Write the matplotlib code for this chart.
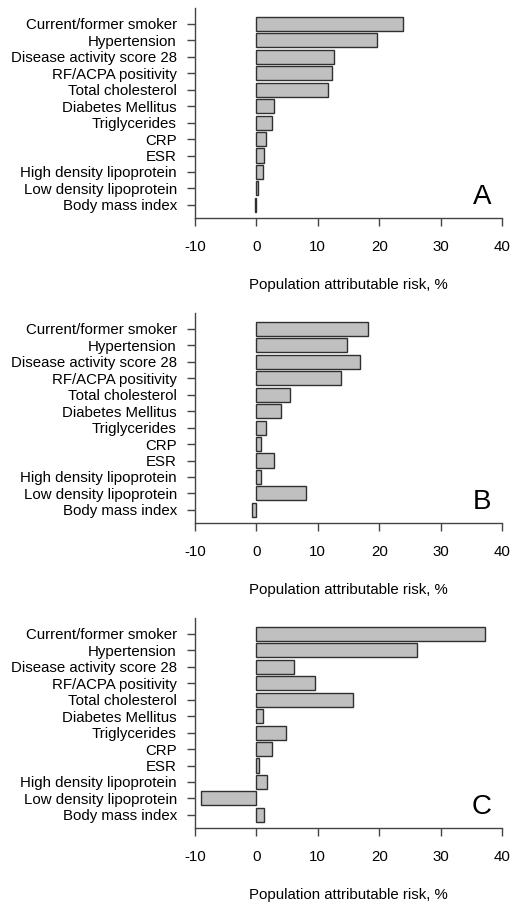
import matplotlib.pyplot as plt

plt.rcParams['font.family'] = ['Liberation Sans', 'DejaVu Sans']

factors = ['Current/former smoker', 'Hypertension', 'Disease activity score 28',
           'RF/ACPA positivity', 'Total cholesterol', 'Diabetes Mellitus',
           'Triglycerides', 'CRP', 'ESR', 'High density lipoprotein',
           'Low density lipoprotein', 'Body mass index']

par_a = [23.8, 19.7, 12.7, 12.3, 11.6, 2.8, 2.6, 1.5, 1.2, 1.1, 0.2, -0.3]
par_b = [18.1, 14.7, 16.9, 13.7, 5.4, 4.0, 1.5, 0.7, 2.8, 0.8, 8.1, -0.7]
par_c = [37.3, 26.2, 6.2, 9.5, 15.7, 1.0, 4.8, 2.5, 0.5, 1.7, -9.1, 1.2]

panels = ['A', 'B', 'C']
xticks = [-10, 0, 10, 20, 30, 40]
xlabel = 'Population attributable risk, %'

W, H = 519, 911
fig = plt.figure(figsize=(W / 100, H / 100), dpi=100)

# axes boxes in pixels: (top, bottom)
boxes = [(8, 218), (313, 523), (618, 828)]
left, right = 195, 502

for vals, letter, (top, bot) in zip([par_a, par_b, par_c], panels, boxes):
    ax = fig.add_axes([left / W, 1 - bot / H, (right - left) / W, (bot - top) / H])
    y = list(range(len(factors)))
    ax.barh(y, vals, height=0.86, color='#c0c0c0', edgecolor='#303030', linewidth=1.0)
    ax.set_xlim(-10, 40)
    ax.set_ylim(11.8, -0.97)
    ax.set_yticks(y)
    ax.set_yticklabels(factors, fontsize=10.8)
    ax.set_xticks(xticks)
    ax.set_xticklabels([str(t) for t in xticks], fontsize=10.8)
    ax.set_xlabel(xlabel, fontsize=10.8, labelpad=17)
    for s in ['top', 'right']:
        ax.spines[s].set_visible(False)
    for s in ['left', 'bottom']:
        ax.spines[s].set_color('#444444')
        ax.spines[s].set_linewidth(1.0)
    ax.tick_params(axis='y', length=6, width=1, color='#444444', pad=7)
    ax.tick_params(axis='x', length=6, width=1, color='#444444', pad=10)
    ax.text(0.965, 0.1, letter, transform=ax.transAxes, fontsize=20,
            ha='right', va='center')

fig.savefig('out.png', dpi=100)
